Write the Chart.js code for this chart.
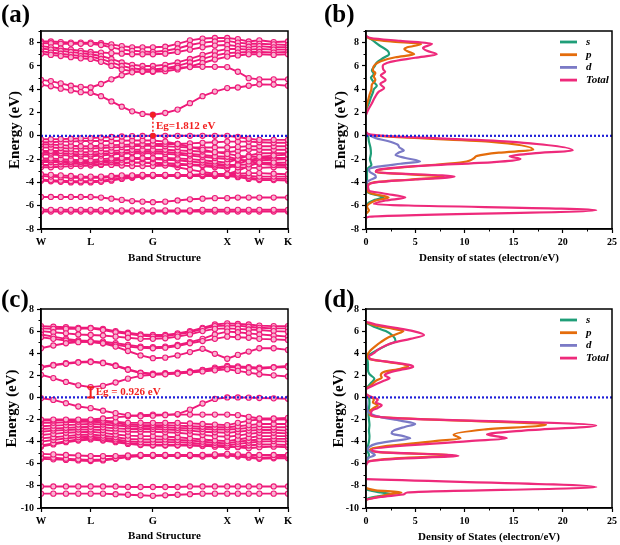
<!DOCTYPE html>
<html><head><meta charset="utf-8">
<script src="https://cdn.jsdelivr.net/npm/chart.js@4/dist/chart.umd.min.js"></script>
<style>
html,body{margin:0;padding:0;background:#fff}
body{width:620px;height:545px;position:relative;overflow:hidden}
canvas{position:absolute}
.lbl{position:absolute;font-family:"Liberation Serif",serif;font-weight:bold;font-size:25px;line-height:25px;color:#000}
</style></head><body>
<canvas id="ca" width="310" height="270" style="left:0;top:0"></canvas>
<canvas id="cb" width="310" height="270" style="left:310px;top:0"></canvas>
<canvas id="cc" width="310" height="275" style="left:0;top:270px"></canvas>
<canvas id="cd" width="310" height="275" style="left:310px;top:270px"></canvas>
<div class="lbl" style="left:1px;top:1px">(a)</div>
<div class="lbl" style="left:324px;top:1px">(b)</div>
<div class="lbl" style="left:1px;top:286px">(c)</div>
<div class="lbl" style="left:324px;top:286px">(d)</div>
<script>
// ---------- data ----------
const symPos = [0, 0.201, 0.453, 0.754, 0.884, 1.0];
const symLabels = ['W', 'L', 'G', 'X', 'W', 'K'];
const kA = [0,.040,.080,.121,.161,.201,.243,.285,.327,.369,.411,.453,.503,.553,.603,.654,.704,.754,.797,.841,.884,.942,1];
const kC = [0,.050,.101,.151,.201,.251,.302,.352,.403,.453,.503,.553,.603,.654,.704,.754,.797,.841,.884,.942,1];
const gapA = 1.812;
const gapC = 0.926;

const bandsA = [
 [4.4,4.25,4.05,3.9,3.75,3.7, 3.4,2.95,2.5,2.1,1.88,1.81, 1.96,2.25,2.8,3.4,3.8,4.1, 4.15,4.3,4.42, 4.4,4.3],
 [4.8,4.7,4.5,4.3,4.2,4.15, 4.45,4.85,5.2,5.45,5.55,5.55, 5.75,5.85,5.9,5.92,5.92,5.9, 5.5,4.95,4.85, 4.85,4.85],
 [7.05,6.95,6.85,6.75,6.65,6.6, 6.35,6.0,5.7,5.55,5.5,5.5, 5.55,5.7,5.95,6.25,6.55,6.8, 6.9,7.0,7.0, 6.95,7.0],
 [7.25,7.15,7.05,6.95,6.85,6.8, 6.6,6.3,6.0,5.8,5.7,5.7, 5.8,6.0,6.3,6.6,6.9,7.1, 7.15,7.2,7.2, 7.15,7.2],
 [7.5,7.4,7.3,7.2,7.1,7.0, 6.85,6.6,6.3,6.1,6.0,6.0, 6.1,6.3,6.6,6.95,7.25,7.45, 7.45,7.4,7.45, 7.4,7.4],
 [7.7,7.6,7.5,7.4,7.3,7.2, 7.15,7.1,7.05,7.0,7.0,7.0, 7.05,7.2,7.4,7.6,7.75,7.8, 7.7,7.65,7.7, 7.6,7.6],
 [7.95,7.95,7.9,7.9,7.9,7.9, 7.8,7.6,7.4,7.3,7.25,7.2, 7.3,7.5,7.8,8.0,8.1,8.15, 8.0,7.9,7.9, 7.85,7.8],
 [8.1,8.1,8.05,8.0,8.0,8.0, 7.95,7.85,7.7,7.6,7.6,7.6, 7.65,7.9,8.2,8.35,8.4,8.4, 8.3,8.1,8.2, 8.05,8.1],
 [-0.3,-0.3,-0.28,-0.25,-0.22,-0.2, -0.15,-0.1,-0.06,-0.03,-0.01,0, 0,0,0,0,0,0, -0.1,-0.25,-0.35, -0.35,-0.35],
 [-0.55,-0.55,-0.5,-0.5,-0.45,-0.45, -0.45,-0.45,-0.42,-0.4,-0.4,-0.4, -0.5,-0.7,-0.95,-1.2,-1.4,-1.55, -1.7,-1.8,-1.8, -1.7,-1.6],
 [-0.75,-0.75,-0.8,-0.85,-0.9,-0.9, -0.85,-0.8,-0.78,-0.75,-0.72,-0.7, -0.7,-0.7,-0.65,-0.6,-0.55,-0.5, -0.5,-0.5,-0.55, -0.6,-0.6],
 [-1.0,-1.0,-1.05,-1.1,-1.1,-1.1, -1.05,-1.0,-0.95,-0.9,-0.85,-0.85, -0.9,-0.95,-1.0,-1.0,-1.0,-1.0, -0.95,-0.9,-0.9, -0.9,-0.9],
 [-1.3,-1.3,-1.3,-1.35,-1.4,-1.4, -1.35,-1.3,-1.25,-1.2,-1.2,-1.2, -1.2,-1.25,-1.3,-1.35,-1.4,-1.4, -1.3,-1.2,-1.2, -1.2,-1.2],
 [-1.45,-1.45,-1.5,-1.55,-1.6,-1.6, -1.55,-1.5,-1.45,-1.4,-1.35,-1.35, -1.4,-1.45,-1.55,-1.65,-1.75,-1.8, -2.0,-2.2,-2.3, -2.3,-2.3],
 [-1.6,-1.6,-1.65,-1.7,-1.75,-1.75, -1.7,-1.6,-1.55,-1.5,-1.5,-1.5, -1.55,-1.6,-1.7,-1.8,-1.9,-2.0, -2.1,-2.1,-2.1, -2.05,-2.0],
 [-1.95,-1.95,-2.0,-2.05,-2.1,-2.1, -2.0,-1.95,-1.9,-1.9,-1.9,-1.9, -1.9,-1.95,-2.0,-2.1,-2.2,-2.3, -2.0,-1.7,-1.5, -1.5,-1.5],
 [-2.1,-2.1,-2.15,-2.2,-2.2,-2.2, -2.15,-2.1,-2.05,-2.0,-2.0,-2.0, -2.05,-2.1,-2.2,-2.3,-2.4,-2.5, -2.5,-2.45,-2.4, -2.5,-2.55],
 [-2.25,-2.25,-2.25,-2.25,-2.25,-2.25, -2.25,-2.25,-2.3,-2.3,-2.3,-2.3, -2.35,-2.4,-2.45,-2.5,-2.55,-2.6, -2.7,-2.75,-2.75, -2.7,-2.7],
 [-2.5,-2.5,-2.45,-2.4,-2.4,-2.4, -2.45,-2.5,-2.55,-2.6,-2.6,-2.6, -2.55,-2.5,-2.5,-2.6,-2.7,-2.8, -2.4,-2.1,-1.9, -1.9,-1.9],
 [-2.7,-2.7,-2.65,-2.6,-2.6,-2.55, -2.5,-2.4,-2.35,-2.3,-2.3,-2.35, -2.5,-2.7,-2.9,-3.1,-3.25,-3.3, -3.0,-2.6,-2.3, -2.4,-2.5],
 [-3.3,-3.35,-3.4,-3.45,-3.5,-3.5, -3.5,-3.45,-3.4,-3.4,-3.35,-3.35, -3.35,-3.35,-3.35,-3.3,-3.3,-3.3, -3.25,-3.2,-3.2, -3.25,-3.3],
 [-3.45,-3.5,-3.55,-3.6,-3.6,-3.6, -3.6,-3.55,-3.5,-3.45,-3.4,-3.4, -3.4,-3.4,-3.4,-3.35,-3.35,-3.35, -3.4,-3.45,-3.5, -3.5,-3.5],
 [-3.75,-3.8,-3.85,-3.9,-3.9,-3.9, -3.85,-3.75,-3.65,-3.55,-3.45,-3.4, -3.4,-3.4,-3.4,-3.4,-3.4,-3.4, -3.5,-3.6,-3.7, -3.7,-3.7],
 [-3.85,-3.9,-3.95,-4.0,-4.0,-4.0, -3.95,-3.85,-3.7,-3.6,-3.5,-3.45, -3.45,-3.45,-3.45,-3.45,-3.45,-3.45, -3.55,-3.7,-3.8, -3.8,-3.85],
 [-5.25,-5.25,-5.25,-5.25,-5.25,-5.25, -5.3,-5.4,-5.5,-5.6,-5.65,-5.7, -5.65,-5.55,-5.45,-5.4,-5.35,-5.35, -5.3,-5.3,-5.3, -5.3,-5.3],
 [-6.35,-6.35,-6.35,-6.35,-6.35,-6.35, -6.35,-6.4,-6.4,-6.4,-6.4,-6.4, -6.4,-6.4,-6.4,-6.35,-6.35,-6.35, -6.35,-6.35,-6.35, -6.35,-6.35],
 [-6.5,-6.5,-6.5,-6.5,-6.5,-6.5, -6.5,-6.5,-6.5,-6.5,-6.5,-6.5, -6.5,-6.5,-6.5,-6.5,-6.5,-6.5, -6.5,-6.5,-6.5, -6.5,-6.5]
];

const bandsC = [
 [2.05,1.75,1.4,1.1,0.93, 1.05,1.35,1.7,1.95,2.05, 2.1,2.15,2.25,2.35,2.45,2.55, 2.4,2.25,2.1, 2.0,1.9],
 [2.7,2.9,3.05,3.15,3.2, 3.1,2.85,2.5,2.2,2.1, 2.15,2.2,2.3,2.45,2.6,2.75, 2.7,2.65,2.6, 2.7,2.75],
 [2.75,2.95,3.1,3.2,3.25, 3.15,2.9,2.55,2.25,2.15, 2.2,2.25,2.35,2.5,2.7,2.85, 2.8,2.75,2.7, 2.75,2.85],
 [4.45,4.7,4.9,5.0,5.05, 4.9,4.6,4.2,3.8,3.55, 3.6,3.8,4.1,4.4,3.95,3.5, 3.85,4.15,4.45, 4.45,4.3],
 [5.45,5.3,5.15,5.05,5.0, 4.9,4.75,4.6,4.5,4.45, 4.5,4.65,4.9,5.1,5.3,5.5, 5.45,5.4,5.3, 5.25,5.2],
 [5.7,5.5,5.3,5.15,5.1, 5.05,4.9,4.75,4.6,4.55, 4.6,4.75,5.0,5.3,5.7,5.95, 5.9,5.8,5.7, 5.6,5.5],
 [6.0,5.9,5.8,5.7,5.65, 5.6,5.5,5.4,5.3,5.3, 5.35,5.5,5.7,6.0,6.2,6.25, 6.2,6.15,6.1, 6.0,5.95],
 [6.25,6.2,6.2,6.2,6.25, 6.1,5.9,5.75,5.6,5.5, 5.55,5.7,5.9,6.2,6.45,6.5, 6.5,6.4,6.3, 6.25,6.25],
 [6.45,6.4,6.35,6.3,6.3, 6.2,6.0,5.85,5.7,5.65, 5.65,5.8,6.0,6.3,6.6,6.7, 6.65,6.6,6.5, 6.45,6.45],
 [-0.07,-0.22,-0.52,-0.82,-0.97, -1.2,-1.42,-1.6,-1.7,-1.65, -1.6,-1.5,-1.1,-0.55,-0.13,0, 0,-0.02,-0.05, -0.08,-0.12],
 [-2.0,-2.0,-2.0,-2.0,-2.0, -1.9,-1.8,-1.7,-1.6,-1.55, -1.55,-1.55,-1.55,-1.55,-1.55,-1.55, -1.6,-1.75,-1.9, -1.9,-1.85],
 [-2.1,-2.1,-2.05,-2.05,-2.05, -2.1,-2.2,-2.3,-2.3,-2.3, -2.3,-2.3,-2.35,-2.4,-2.45,-2.5, -2.3,-2.1,-2.0, -2.0,-2.0],
 [-2.3,-2.3,-2.25,-2.2,-2.2, -2.25,-2.35,-2.45,-2.5,-2.5, -2.5,-2.55,-2.6,-2.65,-2.7,-2.7, -2.6,-2.5,-2.4, -2.4,-2.4],
 [-2.6,-2.55,-2.5,-2.45,-2.4, -2.45,-2.55,-2.6,-2.65,-2.65, -2.7,-2.75,-2.8,-2.85,-2.9,-2.9, -2.85,-2.75,-2.7, -2.7,-2.7],
 [-2.85,-2.8,-2.75,-2.7,-2.65, -2.7,-2.8,-2.85,-2.85,-2.85, -2.9,-2.95,-3.0,-3.1,-3.15,-3.2, -3.1,-3.0,-2.95, -2.95,-3.0],
 [-3.1,-3.0,-2.95,-2.9,-2.9, -2.95,-3.05,-3.1,-3.1,-3.1, -3.15,-3.2,-3.3,-3.4,-3.5,-3.55, -3.45,-3.3,-3.2, -3.2,-3.25],
 [-3.4,-3.3,-3.2,-3.15,-3.1, -3.2,-3.35,-3.45,-3.5,-3.5, -3.55,-3.6,-3.7,-3.8,-3.9,-3.95, -3.8,-3.65,-3.5, -3.5,-3.5],
 [-3.7,-3.6,-3.5,-3.4,-3.35, -3.45,-3.6,-3.75,-3.8,-3.8, -3.8,-3.85,-3.9,-4.0,-4.1,-4.15, -4.0,-3.9,-3.8, -3.75,-3.75],
 [-4.0,-3.85,-3.7,-3.6,-3.55, -3.65,-3.8,-3.95,-4.05,-4.05, -4.05,-4.05,-4.1,-4.2,-4.3,-4.35, -4.2,-4.1,-4.0, -3.95,-4.0],
 [-4.35,-4.15,-3.95,-3.8,-3.7, -3.8,-3.95,-4.1,-4.25,-4.3, -4.3,-4.3,-4.3,-4.35,-4.45,-4.5, -4.45,-4.35,-4.25, -4.25,-4.3],
 [-4.45,-4.25,-4.05,-3.9,-3.8, -3.9,-4.05,-4.2,-4.3,-4.35, -4.35,-4.35,-4.35,-4.4,-4.4,-4.4, -4.5,-4.6,-4.5, -4.45,-4.5],
 [-5.1,-5.15,-5.2,-5.25,-5.3, -5.3,-5.3,-5.25,-5.2,-5.2, -5.2,-5.2,-5.2,-5.2,-5.15,-5.1, -5.15,-5.2,-5.2, -5.2,-5.2],
 [-5.4,-5.45,-5.55,-5.6,-5.65, -5.6,-5.5,-5.35,-5.25,-5.25, -5.25,-5.25,-5.25,-5.25,-5.2,-5.15, -5.25,-5.35,-5.45, -5.4,-5.35],
 [-5.55,-5.6,-5.65,-5.7,-5.75, -5.7,-5.55,-5.4,-5.3,-5.3, -5.3,-5.3,-5.3,-5.35,-5.3,-5.25, -5.35,-5.45,-5.55, -5.5,-5.5],
 [-8.05,-8.05,-8.05,-8.05,-8.05, -8.05,-8.05,-8.1,-8.1,-8.1, -8.1,-8.1,-8.05,-8.05,-8.05,-8.05, -8.05,-8.05,-8.05, -8.05,-8.05],
 [-8.7,-8.7,-8.7,-8.7,-8.7, -8.7,-8.75,-8.8,-8.85,-8.9, -8.85,-8.8,-8.75,-8.7,-8.7,-8.7, -8.7,-8.7,-8.7, -8.7,-8.7]
];

// DOS series as [energy (eV), states (electron/eV)] pairs; null = no line
const dosNames = ['s', 'p', 'd', 'Total'];
const dosB_s = [[8.55,0],[8.3,0.5],[7.8,1.3],[7.3,2.2],[7.0,2.35],[6.7,1.8],[6.3,1.1],[6.0,0.9],[5.6,0.6],[5.3,0.8],[5.0,0.5],[4.6,0.8],[4.3,1.1],[4.0,0.8],[3.7,0.7],[3.3,0.5],[2.8,0.3],[2.3,0.05],[1.9,0],[1.0,null],[0.3,0],[0,0.2],[-0.5,0.3],[-1.0,0.45],[-1.5,0.5],[-2.0,0.4],[-2.5,0.55],[-2.8,0.2],[-3.2,0.1],[-4.0,0.1],[-4.8,0.1],[-5.0,0.6],[-5.25,1.8],[-5.5,0.9],[-5.8,0.2],[-6.2,0.05]];
const dosB_p = [[8.55,0],[8.3,0.6],[8.1,2.5],[7.88,5.6],[7.6,4.2],[7.45,3.9],[7.2,4.4],[7.0,4.9],[6.75,3.0],[6.4,1.5],[6.1,0.9],[5.9,0.75],[5.6,0.7],[5.4,0.95],[5.1,0.8],[4.8,0.95],[4.4,0.6],[4.0,0.55],[3.5,0.35],[3.0,0.2],[2.5,0.05],[2.0,0],[1.0,null],[0.3,0],[0.05,0.5],[-0.5,12.5],[-1.2,17],[-1.45,13.5],[-1.72,11.3],[-1.9,11.0],[-2.25,9.9],[-2.55,6],[-2.96,1.15],[-3.1,1.0],[-3.53,7.9],[-3.75,4.5],[-4.0,0.8],[-4.3,0.2],[-4.8,0.2],[-5.0,0.8],[-5.3,2.3],[-5.55,1.0],[-5.85,0.3],[-6.1,0.1],[-6.4,0.3],[-6.7,0]];
const dosB_d = [[0.3,0],[0.1,0.3],[-0.2,1.0],[-0.45,2.2],[-0.75,3.2],[-1.0,3.4],[-1.25,3.85],[-1.45,3.3],[-1.65,3.0],[-1.9,4.0],[-2.2,5.5],[-2.4,3.5],[-2.65,1.2],[-2.85,0.3],[-3.1,0.4],[-3.35,0.9],[-3.55,1.0],[-3.8,0.4],[-4.0,0.05],[-4.2,0]];
const dosB_t = [[8.6,0],[8.4,0.5],[8.15,3.5],[7.9,6.7],[7.55,5.8],[7.3,6.2],[7.0,7.2],[6.7,5.0],[6.35,2.5],[6.0,1.7],[5.7,1.75],[5.5,1.95],[5.2,1.5],[4.8,2.0],[4.45,1.45],[4.1,1.85],[3.8,1.3],[3.3,0.9],[2.8,0.6],[2.2,0.2],[1.8,0],[1.0,null],[0.35,0],[0.1,0.5],[-0.5,14.5],[-1.25,21],[-1.5,17],[-1.75,14.6],[-2.0,15.7],[-2.25,13],[-2.6,5],[-2.95,1.1],[-3.1,1.0],[-3.5,9.0],[-3.75,5],[-4.0,1.0],[-4.3,0.2],[-4.7,0.3],[-4.95,1.8],[-5.3,4.0],[-5.55,2.0],[-5.85,0.8],[-6.38,23.4],[-6.95,0.3],[-7.1,0]];

const dosD_s = [[6.75,0],[6.4,0.8],[6.0,2.0],[5.6,2.7],[5.1,3.0],[4.8,2.3],[4.4,1.4],[4.0,0.6],[3.7,0.1],[3.4,0.15],[3.0,0.2],[2.5,0.2],[2.1,0.35],[1.7,0.85],[1.3,0.5],[1.0,0.2],[0.8,0],[0.5,null],[0.3,0],[0,0.3],[-0.5,0.35],[-1.0,0.3],[-1.5,0.25],[-2.0,0.3],[-2.5,0.35],[-3.0,0.3],[-3.5,0.35],[-4.0,0.3],[-4.4,0.2],[-4.8,0.15],[-5.2,0.3],[-5.6,0.15],[-6.0,0],[-7.0,null],[-8.2,0],[-8.4,0.3],[-8.6,1.5],[-8.75,2.6],[-8.9,1.5],[-9.1,0.3],[-9.3,0]];
const dosD_p = [[6.8,0],[6.5,1.0],[6.2,2.8],[6.0,3.8],[5.7,3.0],[5.4,2.2],[5.0,1.5],[4.6,0.9],[4.2,0.4],[3.8,0.15],[3.5,0.3],[3.2,2.3],[2.85,4.3],[2.6,3.5],[2.3,1.8],[2.0,1.5],[1.8,1.6],[1.5,1.0],[1.1,0.5],[0.8,0],[0.5,null],[0.3,0],[0.1,0.3],[-0.2,0.8],[-0.45,0.7],[-0.7,1.2],[-0.95,0.8],[-1.2,0.4],[-1.5,0.35],[-1.8,1.8],[-2.48,18.3],[-2.9,12],[-3.38,8.9],[-3.55,9.3],[-3.7,9.6],[-3.95,7],[-4.7,0.4],[-4.95,1.3],[-5.25,8.8],[-5.5,3],[-5.8,0.2],[-6.1,0],[-7.0,null],[-8.2,0],[-8.4,1.0],[-8.6,3.6],[-8.75,2.5],[-9.0,1.2],[-9.25,0]];
const dosD_d = [[0.3,0],[-0.5,0.05],[-1.2,0.15],[-1.5,0.5],[-1.8,1.6],[-2.1,3.5],[-2.4,5.0],[-2.65,4.0],[-3.0,2.8],[-3.25,2.6],[-3.5,3.8],[-3.7,4.5],[-3.9,3.0],[-4.2,1.0],[-4.5,0.3],[-4.7,0.2],[-5.0,0.6],[-5.2,0.9],[-5.45,0.3],[-5.7,0.05],[-6.0,0]];
const dosD_t = [[6.85,0],[6.6,1.0],[6.3,3.0],[6.0,4.8],[5.65,5.9],[5.3,4.5],[5.0,3.0],[4.7,2.0],[4.3,1.2],[4.0,0.8],[3.7,0.3],[3.45,0.5],[3.2,2.5],[2.9,4.6],[2.75,4.8],[2.5,3.5],[2.2,2.2],[2.0,1.9],[1.75,2.4],[1.5,1.8],[1.2,1.0],[0.9,0.3],[0.75,0],[0.5,null],[0.3,0],[0.1,0.4],[-0.2,1.2],[-0.45,1.0],[-0.7,1.6],[-0.95,1.2],[-1.2,0.6],[-1.5,0.5],[-1.85,2.5],[-2.54,23.4],[-3.0,16],[-3.35,12.3],[-3.55,13.5],[-3.7,14.3],[-3.95,10.5],[-4.74,0.6],[-4.95,1.5],[-5.28,9.4],[-5.55,3],[-5.8,0.3],[-6.2,0],[-7.0,null],[-7.39,0],[-8.11,23.4],[-8.6,4.2],[-8.75,3.9],[-9.0,1.5],[-9.25,0]];

// ---------- styles ----------
const BAND = '#ee1a7a', BAND_FILL = '#f8b4d0', FERMI = '#1f1fd8', RED = '#f22020';
const DOS_COLORS = ['#1f9e78', '#e46c0b', '#7b7ac6', '#ee2a7b'];
const FONT = '"Liberation Serif", "Times New Roman", serif';
Chart.defaults.font.family = FONT;
Chart.defaults.font.weight = 'bold';
Chart.defaults.font.size = 10;
Chart.defaults.color = '#000';

const framePlugin = {id: 'frame', afterDatasetsDraw(c) {
  const a = c.chartArea, ctx = c.ctx; ctx.save(); ctx.strokeStyle = '#000'; ctx.lineWidth = 1.5;
  ctx.strokeRect(a.left, a.top, a.right - a.left, a.bottom - a.top); ctx.restore(); }};
const minorPlugin = {id: 'minor', afterDraw(c, _a, o) {
  const ctx = c.ctx; ctx.save(); ctx.strokeStyle = '#000'; ctx.lineWidth = 1;
  ['x', 'y'].forEach(id => {
    const step = o[id]; if (!step) return; const major = o[id + 'Major']; const sc = c.scales[id];
    for (let i = Math.ceil(sc.min / step - 1e-9); i * step <= sc.max + 1e-9; i++) {
      const v = i * step; const r = v / major; if (Math.abs(r - Math.round(r)) < 1e-6) continue;
      const p = Math.round(sc.getPixelForValue(v)) + 0.5; ctx.beginPath();
      if (id === 'x') { ctx.moveTo(p, sc.top); ctx.lineTo(p, sc.top + 2.5); }
      else { ctx.moveTo(sc.right, p); ctx.lineTo(sc.right - 2.5, p); }
      ctx.stroke();
    }
  }); ctx.restore(); }};
const egPlugin = {id: 'egText', afterDatasetsDraw(c, _a, o) {
  if (!o.text) return; const ctx = c.ctx; ctx.save();
  ctx.fillStyle = RED; ctx.font = 'bold 11px ' + FONT; ctx.textBaseline = 'middle';
  ctx.fillText(o.text, c.scales.x.getPixelForValue(o.k) + o.dx, c.scales.y.getPixelForValue(o.e));
  ctx.restore(); }};
const legendPlugin = {id: 'dosLegend', afterDraw(c, _a, o) {
  if (!o.items) return; const a = c.chartArea, ctx = c.ctx; ctx.save();
  o.items.forEach((it, i) => {
    const y = a.top + o.top + i * o.gap;
    ctx.strokeStyle = it.color; ctx.lineWidth = 2.8; ctx.beginPath();
    ctx.moveTo(a.left + o.x0, y); ctx.lineTo(a.left + o.x1, y); ctx.stroke();
    ctx.fillStyle = '#000'; ctx.font = 'italic bold 11px ' + FONT; ctx.textBaseline = 'middle';
    ctx.fillText(it.text, a.left + o.tx, y);
  }); ctx.restore(); }};

function yAxis(min, max, width, titlePad) {
  return {type: 'linear', min, max, ticks: {stepSize: 2, color: '#000', padding: 3},
    afterBuildTicks: s => { s.ticks = s.ticks.filter(t => Math.abs(t.value % 2) < 1e-9); },
    grid: {drawOnChartArea: false, drawTicks: true, tickLength: 4, tickColor: '#000', tickWidth: 1.2},
    border: {display: true, color: '#000', width: 1.5},
    title: {display: true, text: 'Energy (eV)', color: '#000', font: {size: 15, weight: 'bold'}, padding: {top: titlePad, bottom: 0}},
    afterFit: s => { s.width = width; }};
}

function bandChart(id, k, bands, yMin, yMax, padTop, xH, titleBottom, egSet) {
  const ds = [];
  ds.push({data: [{x: 0, y: 0}, {x: 1, y: 0}], showLine: true, borderColor: FERMI, borderWidth: 2.2,
    borderDash: [2, 2], pointRadius: 0, order: -2});
  ds.push(egSet.dataset);
  bands.forEach(b => ds.push({data: k.map((kk, i) => ({x: kk, y: b[i]})), showLine: true,
    borderColor: BAND, borderWidth: 1.9, pointRadius: 2.6, pointBackgroundColor: BAND_FILL,
    pointBorderColor: BAND, pointBorderWidth: 1.1, order: 0}));
  new Chart(document.getElementById(id), {
    type: 'scatter', data: {datasets: ds},
    options: {responsive: false, animation: false, devicePixelRatio: 1,
      layout: {padding: {left: 0, top: padTop, right: 22, bottom: 0}},
      scales: {
        x: {type: 'linear', min: 0, max: 1,
          afterBuildTicks: s => { s.ticks = symPos.map(v => ({value: v})); },
          ticks: {autoSkip: false, maxRotation: 0, color: '#000', font: {size: 10.5}, callback: (v, i) => symLabels[i]},
          grid: {drawOnChartArea: false, drawTicks: true, tickLength: 4, tickColor: '#000', tickWidth: 1.2},
          border: {display: true, color: '#000', width: 1.5},
          title: {display: true, text: 'Band Structure', color: '#000', font: {size: 11, weight: 'bold'}, padding: {top: 0, bottom: titleBottom}},
          afterFit: s => { s.height = xH; }},
        y: yAxis(yMin, yMax, 41, egSet.titlePad)
      },
      plugins: {legend: {display: false}, tooltip: {enabled: false},
        minor: {y: 1, yMajor: 2}, egText: egSet.label}
    },
    plugins: [framePlugin, minorPlugin, egPlugin]
  });
}

function dosChart(id, series, yMin, yMax, padTop, xH, titleBottom, xTitle, titlePad) {
  const ds = [{data: [{x: 0, y: 0}, {x: 25, y: 0}], borderColor: FERMI, borderWidth: 2.2, borderDash: [2, 2],
    pointRadius: 0, tension: 0, cubicInterpolationMode: 'default', order: -2}];
  series.forEach((s, i) => ds.push({label: dosNames[i],
    data: s.map(p => ({x: p[1], y: p[0]})), borderColor: DOS_COLORS[i], borderWidth: 2.2,
    pointRadius: 0, cubicInterpolationMode: 'monotone', spanGaps: false, order: i === 3 ? -1 : 3 - i}));
  new Chart(document.getElementById(id), {
    type: 'line', data: {datasets: ds},
    options: {indexAxis: 'y', responsive: false, animation: false, devicePixelRatio: 1,
      layout: {padding: {left: 0, top: padTop, right: 7, bottom: 0}},
      scales: {
        x: {type: 'linear', position: 'bottom', min: 0, max: 25, ticks: {stepSize: 5, color: '#000', maxRotation: 0},
          grid: {drawOnChartArea: false, drawTicks: true, tickLength: 4, tickColor: '#000', tickWidth: 1.2},
          border: {display: true, color: '#000', width: 1.5},
          title: {display: true, text: xTitle, color: '#000', font: {size: 11, weight: 'bold'}, padding: {top: 0, bottom: titleBottom}},
          afterFit: s => { s.height = xH; }},
        y: Object.assign(yAxis(yMin, yMax, 56, titlePad), {position: 'left'})
      },
      plugins: {legend: {display: false}, tooltip: {enabled: false},
        minor: {x: 2.5, xMajor: 5, y: 1, yMajor: 2},
        dosLegend: {items: dosNames.map((n, i) => ({text: n, color: DOS_COLORS[i]})), top: 11, gap: 12.7, x0: 194, x1: 211, tx: 220}}
    },
    plugins: [framePlugin, minorPlugin, legendPlugin]
  });
}

bandChart('ca', kA, bandsA, -8, 9, 31, 41, 5.4, {
  titlePad: 6,
  dataset: {data: [{x: symPos[2], y: 0}, {x: symPos[2], y: gapA}], showLine: true, borderColor: RED,
    borderWidth: 1.5, borderDash: [2, 2], pointRadius: 2, pointBackgroundColor: RED, pointBorderColor: RED, order: -3},
  label: {text: 'Eg=' + gapA.toFixed(3) + ' eV', k: symPos[2], dx: 3, e: 0.85}
});
bandChart('cc', kC, bandsC, -10, 8, 39, 37, 2.7, {
  titlePad: 3.5,
  dataset: {data: [{x: symPos[1], y: 0}, {x: symPos[1], y: gapC}], showLine: true, borderColor: RED,
    borderWidth: 2, pointStyle: 'line', pointRadius: 3.5, pointBorderWidth: 2, pointBorderColor: RED, order: -3},
  label: {text: 'Eg = ' + gapC.toFixed(3) + ' eV', k: symPos[1], dx: 5, e: 0.45}
});
dosChart('cb', [dosB_s, dosB_p, dosB_d, dosB_t], -8, 9, 31, 41, 5.4, 'Density of states (electron/eV)', 22.5);
dosChart('cd', [dosD_s, dosD_p, dosD_d, dosD_t], -10, 8, 39, 37, 1.7, 'Density of States (electron/eV)', 20);
</script>
</body></html>
